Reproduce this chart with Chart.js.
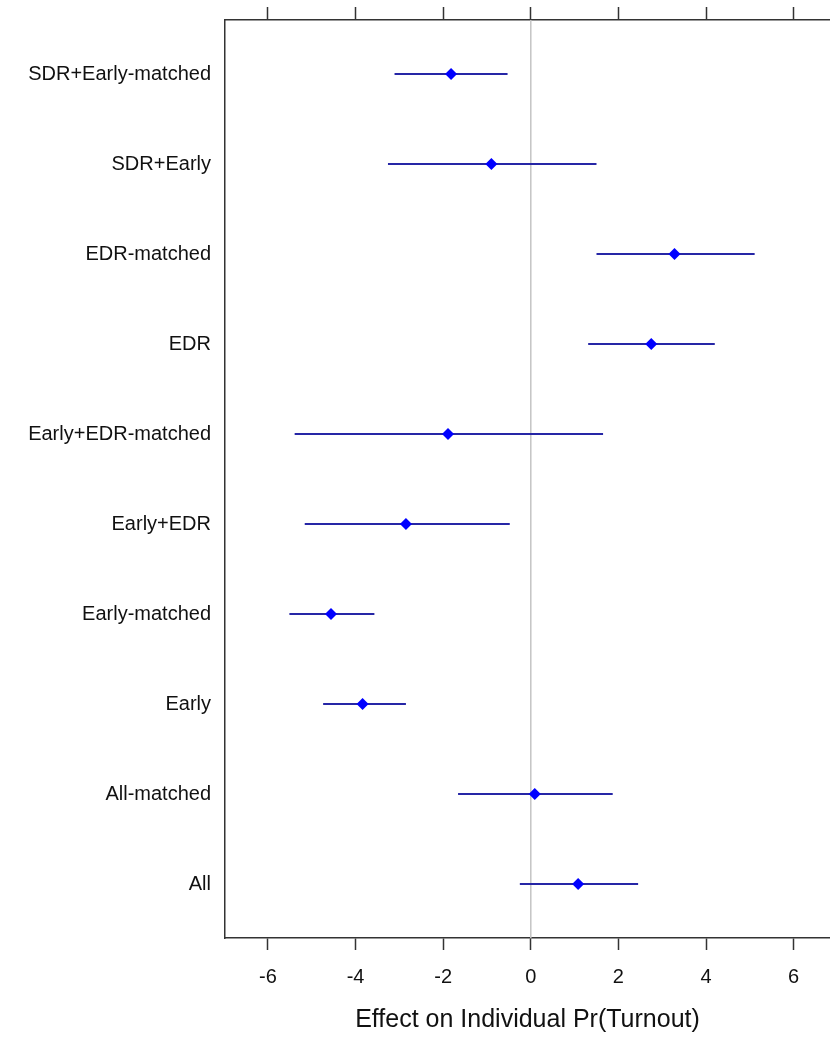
<!DOCTYPE html>
<html>
<head>
<meta charset="utf-8">
<script src="https://cdn.jsdelivr.net/npm/chart.js@4/dist/chart.umd.min.js"></script>
<style>
  html, body { margin: 0; padding: 0; background: #fff; overflow: hidden; }
  #wrap { width: 830px; height: 1041px; }
</style>
</head>
<body>
<div id="wrap"><canvas id="effectChart" width="830" height="1041"></canvas></div>
<script>
// Data (bottom row first, like the picture reads from the bottom up)
const categories = ['All', 'All-matched', 'Early', 'Early-matched', 'Early+EDR',
                    'Early+EDR-matched', 'EDR', 'EDR-matched', 'SDR+Early', 'SDR+Early-matched'];
const estimates = [1.08, 0.09, -3.84, -4.56, -2.85, -1.89, 2.75, 3.28, -0.90, -1.82];
const lowerCI   = [-0.25, -1.66, -4.74, -5.51, -5.16, -5.39, 1.31, 1.50, -3.26, -3.11];
const upperCI   = [2.45, 1.87, -2.85, -3.57, -0.48, 1.65, 4.20, 5.11, 1.50, -0.53];
const xTicks = [-6, -4, -2, 0, 2, 4, 6];

// axis range (the right side of the panel is cut off by the picture)
const X_MIN = -6.98, X_MAX = 6.83;
const Y_MIN = 0.4, Y_MAX = 10.6;

const FONT = "'Liberation Sans', Arial, sans-serif";
const FRAME = '#333333';

// no extra room for label overflow, the frame sits where we put it
function noPadding(s) {
    s.paddingTop = 0; s.paddingBottom = 0;
    s.paddingLeft = 0; s.paddingRight = 0;
}

// one small line dataset per interval
const intervalSets = categories.map((c, i) => ({
    type: 'line',
    data: [{ x: lowerCI[i], y: i + 1 }, { x: upperCI[i], y: i + 1 }],
    borderColor: '#2626a6',
    borderWidth: 2,
    pointRadius: 0,
    order: 2
}));

new Chart(document.getElementById('effectChart'), {
    type: 'scatter',
    data: {
        datasets: [
            {
                // reference line at zero
                type: 'line',
                data: [{ x: 0, y: Y_MIN }, { x: 0, y: Y_MAX }],
                borderColor: '#c4c4c4',
                borderWidth: 1.5,
                pointRadius: 0,
                order: 3
            },
            ...intervalSets,
            {
                data: estimates.map((v, i) => ({ x: v, y: i + 1 })),
                pointStyle: 'rectRot',
                pointRadius: 6,
                backgroundColor: '#0000ff',
                borderColor: '#0000ff',
                borderWidth: 0,
                order: 1
            }
        ]
    },
    options: {
        responsive: false,
        devicePixelRatio: 1,
        animation: false,
        layout: { padding: 0, autoPadding: false },
        plugins: {
            legend: { display: false },
            tooltip: { enabled: false }
        },
        scales: {
            x: {
                type: 'linear',
                position: 'bottom',
                min: X_MIN,
                max: X_MAX,
                afterBuildTicks: s => { s.ticks = xTicks.map(v => ({ value: v })); },
                afterFit: s => { s.height = 103; noPadding(s); },
                grid: { drawOnChartArea: false, drawTicks: true, tickLength: 12, tickColor: FRAME, tickWidth: 1.5 },
                border: { display: true, color: FRAME, width: 1.5 },
                ticks: {
                    color: '#111',
                    padding: 15,
                    maxRotation: 0,
                    font: { family: FONT, size: 20 },
                    callback: v => String(v)
                },
                title: {
                    display: true,
                    text: 'Effect on Individual Pr(Turnout)',
                    color: '#111',
                    font: { family: FONT, size: 25 },
                    padding: { top: 0, bottom: 6 }
                }
            },
            x2: {
                type: 'linear',
                position: 'top',
                min: X_MIN,
                max: X_MAX,
                afterBuildTicks: s => { s.ticks = xTicks.map(v => ({ value: v })); },
                afterFit: s => { s.height = 20; noPadding(s); },
                grid: { drawOnChartArea: false, drawTicks: true, tickLength: 13, tickColor: FRAME, tickWidth: 1.5 },
                border: { display: true, color: FRAME, width: 1.5 },
                ticks: { display: false }
            },
            y: {
                type: 'linear',
                position: 'left',
                min: Y_MIN,
                max: Y_MAX,
                afterBuildTicks: s => { s.ticks = categories.map((c, i) => ({ value: i + 1 })); },
                afterFit: s => { s.width = 225; noPadding(s); },
                grid: { drawOnChartArea: false, drawTicks: false },
                border: { display: true, color: FRAME, width: 1.5 },
                ticks: {
                    color: '#111',
                    padding: 14,
                    font: { family: FONT, size: 20 },
                    callback: v => categories[v - 1] || ''
                }
            }
        }
    }
});
</script>
</body>
</html>
